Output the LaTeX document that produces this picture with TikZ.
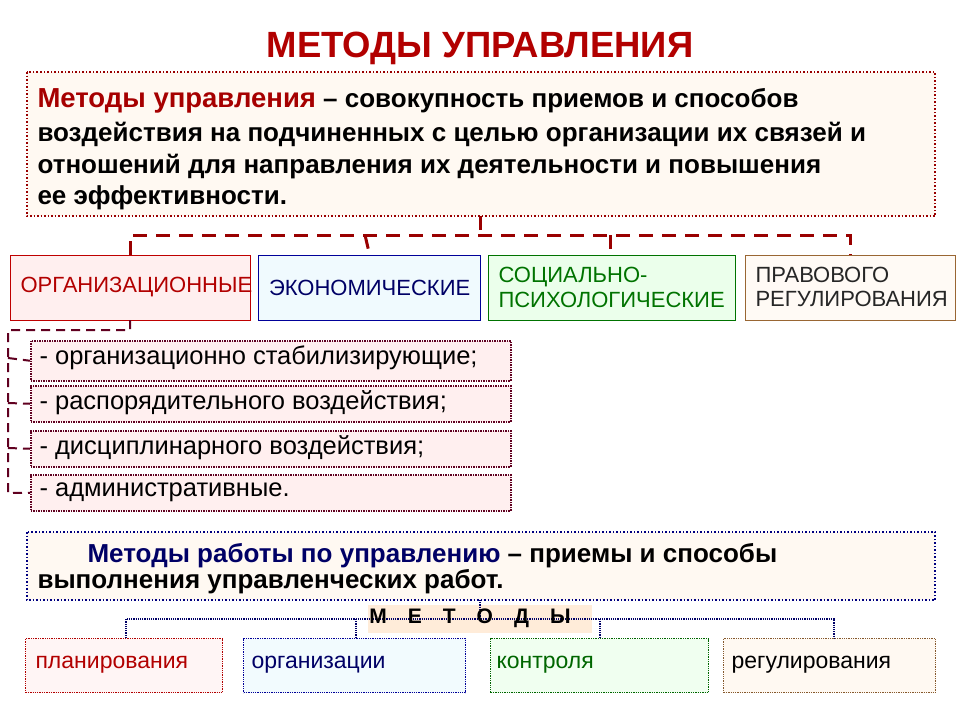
\documentclass[tikz,border=0pt]{standalone}
\usepackage{fontspec}
\setmainfont{Liberation Sans}
\begin{document}
\begin{tikzpicture}[x=1pt,y=-1pt,
  defbox/.style={draw=#1,dotted,line width=1.5pt},
  catbox/.style={draw=#1,line width=1.3pt,inner sep=0pt},
  item/.style={draw=black!50!purple,densely dotted,line width=1.5pt,fill=pink!25,inner sep=0pt},
  dred/.style={draw=red!60!black,dashed,line width=3pt,dash pattern=on 14pt off 9pt},
  dpur/.style={draw=black!50!purple,line width=2pt,dash pattern=on 9pt off 6pt},
  thin/.style={draw=blue!40!black,densely dotted,line width=1.2pt},
  txt/.style={font=\fontsize{22}{25}\selectfont},
  itxt/.style={font=\fontsize{25.5}{28}\selectfont,anchor=west},
  btxt/.style={font=\fontsize{23}{26}\selectfont,anchor=west},
  dtxt/.style={anchor=west,font=\bfseries\fontsize{26}{28}\selectfont}]
\useasboundingbox (0,0) rectangle (960,720);
\fill[white] (0,0) rectangle (960,720);
\node[font=\bfseries\fontsize{36.5}{40}\selectfont,text=red!70!black] (title) at (480,48) {МЕТОДЫ УПРАВЛЕНИЯ};
\filldraw[defbox=red!60!black,fill=orange!5] (27,72) rectangle (935,216);
\node[dtxt] (d1) at (34,101) {\textcolor{red!65!black}{\fontsize{27.5}{28}\selectfont Методы управления} – совокупность приемов и способов};
\node[dtxt] (d2) at (34,135) {воздействия на подчиненных с целью организации их связей и};
\node[dtxt] (d3) at (34,167) {отношений для направления их деятельности и повышения};
\node[dtxt] (d4) at (34,198) {ее эффективности.};
\coordinate (top) at (480,216);
% categories
\node[catbox=red!75!black,fill=pink!25,minimum width=240pt,minimum height=65pt,anchor=north west] (c1) at (10,255) {};
\node[txt,text=red!70!black,anchor=west] at (17,287) {ОРГАНИЗАЦИОННЫЕ};
\node[catbox=blue!60!black,fill=cyan!6,minimum width=222pt,minimum height=65pt,anchor=north west,txt,text=blue!40!black] (c2) at (258,255) {ЭКОНОМИЧЕСКИЕ};
\node[catbox=green!45!black,fill=green!8,minimum width=247pt,minimum height=65pt,anchor=north west] (c3) at (488,255) {};
\node[txt,text=green!45!black,align=left,anchor=west] at (495,287) {СОЦИАЛЬНО-\\ПСИХОЛОГИЧЕСКИЕ};
\node[catbox=brown!80!black,fill=orange!4,minimum width=210pt,minimum height=65pt,anchor=north west] (c4) at (745,255) {};
\node[txt,text=black!85,align=left,anchor=west,font=\fontsize{22}{24}\selectfont] at (752,287) {ПРАВОВОГО\\РЕГУЛИРОВАНИЯ};
\draw[dred] (top) -- (480,235);
\draw[dred] (130,255) -- (130,235) -- (850,235) -- (850,255);
\draw[dred] (365,235) -- (c2.north);
\draw[dred] (610,235) -- (610,255);
% items
\node[item,minimum width=480pt,minimum height=40pt,anchor=north west] (i1) at (30,340) {};
\node[itxt] at (36,358) {- организационно стабилизирующие;};
\node[item,minimum width=480pt,minimum height=36pt,anchor=north west] (i2) at (30,385) {};
\node[itxt] at (36,403) {- распорядительного воздействия;};
\node[item,minimum width=480pt,minimum height=36pt,anchor=north west] (i3) at (30,430) {};
\node[itxt] at (36,448) {- дисциплинарного воздействия;};
\node[item,minimum width=480pt,minimum height=36pt,anchor=north west] (i4) at (30,474) {};
\node[itxt] at (36,492) {- административные.};
\draw[dpur] (130,320) -- (130,330) -- (8,330) -- (8,493) -- (i4.west);
\draw[dpur] (8,358) -- (i1.west);
\draw[dpur] (8,403) -- (i2.west);
\draw[dpur] (8,448) -- (i3.west);
% lower
\filldraw[defbox=blue!50!black,fill=orange!5] (27,532) rectangle (935,600);
\node[dtxt] (l1) at (84,556) {\textcolor{blue!40!black}{Методы работы по управлению} – приемы и способы};
\node[dtxt] (l2) at (34,582) {выполнения управленческих работ.};
\coordinate (top2) at (480,600);
\fill[orange!15] (368,605) rectangle (592,633);
\draw[thin] (top2) -- (480,619);
\draw[thin] (126,638) -- (126,619) -- (834,619) -- (834,638);
\draw[thin] (356,619) -- (356,638);
\draw[thin] (600,619) -- (600,638);
\node[font=\bfseries\fontsize{21}{24}\selectfont] (met) at (470,618) {М\quad Е\quad Т\quad О\quad Д\quad Ы};
\node[draw=red!70!black,densely dotted,line width=1.3pt,fill=pink!15,minimum width=197pt,minimum height=54pt,anchor=north west] (b1) at (25,638) {};
\node[btxt,text=red!70!black] at (32,665) {планирования};
\node[draw=blue!60!black,densely dotted,line width=1.3pt,fill=cyan!5,minimum width=222pt,minimum height=54pt,anchor=north west] (b2) at (243,638) {};
\node[btxt,text=blue!40!black] at (248,665) {организации};
\node[draw=green!40!black,densely dotted,line width=1.3pt,fill=green!6,minimum width=218pt,minimum height=54pt,anchor=north west] (b3) at (490,638) {};
\node[btxt,text=green!40!black] at (493,665) {контроля};
\node[draw=brown!70!black,densely dotted,line width=1.3pt,fill=orange!5,minimum width=212pt,minimum height=54pt,anchor=north west] (b4) at (723,638) {};
\node[btxt] at (728,665) {регулирования};
\end{tikzpicture}
\end{document}
